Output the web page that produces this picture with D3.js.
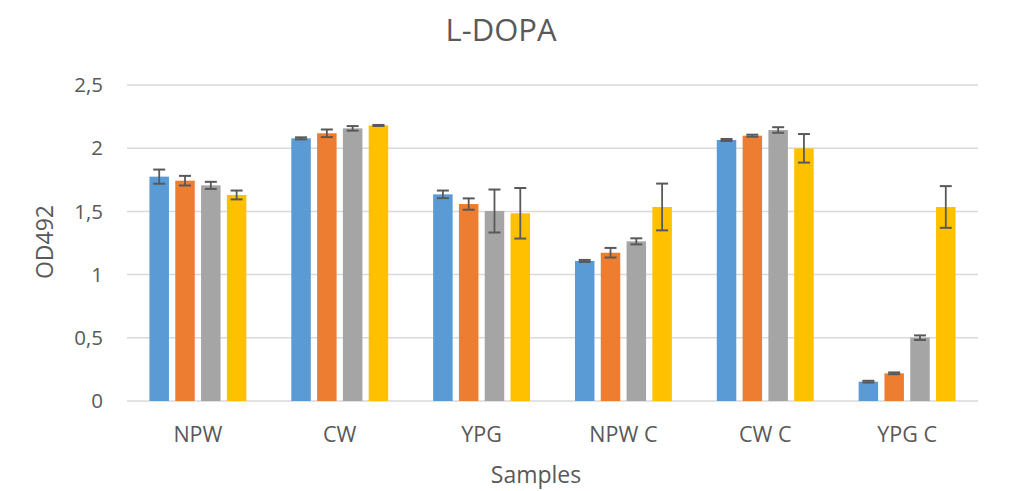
<!DOCTYPE html>
<html><head><meta charset="utf-8">
<script src="https://cdn.jsdelivr.net/npm/d3@7"></script>
<style>body{margin:0;background:#fff}svg{display:block}text{font-family:"Open Sans",sans-serif;fill:#595959}</style>
</head><body><svg id="c" width="1012" height="491"></svg>
<script>
const categories = ["NPW","CW","YPG","NPW C","CW C","YPG C"];
const seriesNames = ["S1","S2","S3","S4"];
const seriesColors = ["#5B9BD5","#ED7D31","#A5A5A5","#FFC000"];
const s1 = [1.775, 2.078, 1.635, 1.108, 2.065, 0.153];
const s2 = [1.743, 2.118, 1.558, 1.173, 2.099, 0.219];
const s3 = [1.706, 2.157, 1.503, 1.263, 2.144, 0.501];
const s4 = [1.630, 2.180, 1.485, 1.535, 1.999, 1.535];
const e1 = [0.056, 0.008, 0.030, 0.008, 0.008, 0.007];
const e2 = [0.038, 0.030, 0.045, 0.038, 0.008, 0.007];
const e3 = [0.028, 0.018, 0.170, 0.024, 0.022, 0.018];
const e4 = [0.035, 0.004, 0.200, 0.185, 0.113, 0.165];
const yTicks = [0, 0.5, 1, 1.5, 2, 2.5];
const yTickLabels = ["0","0,5","1","1,5","2","2,5"];

const values = [s1,s2,s3,s4], errors = [e1,e2,e3,e4];
const svg = d3.select("#c");
const L = 127, R = 978, T = 85, B = 401;
const x0 = d3.scaleBand().domain(categories).range([L,R]).paddingInner(0).paddingOuter(0);
const x1 = d3.scaleBand().domain(seriesNames).range([0, 0]);
const y = d3.scaleLinear().domain([0,2.5]).range([B,T]);
const groupW = x0.bandwidth();
const step = 25.8, barW = 19.5;
x1.range([groupW/2 - 2*step, groupW/2 + 2*step]).paddingInner((step-barW)/step).paddingOuter((step-barW)/step/2);

// grid
svg.append("g").selectAll("line").data(yTicks).join("line")
  .attr("x1",L).attr("x2",R).attr("y1",d=>y(d)).attr("y2",d=>y(d))
  .attr("stroke","#d9d9d9").attr("stroke-width",1.5);
// y labels
svg.append("g").selectAll("text").data(yTicks).join("text")
  .attr("x",103).attr("y",d=>y(d)).attr("dy","0.35em").attr("text-anchor","end")
  .attr("font-size",20.5).text((d,i)=>yTickLabels[i]);

const g = svg.append("g").selectAll("g").data(categories).join("g")
  .attr("transform",d=>`translate(${x0(d)},0)`);
seriesNames.forEach((s,si)=>{
  g.append("rect").attr("x",x1(s)).attr("width",x1.bandwidth())
    .attr("y",(d,i)=>y(values[si][i])).attr("height",(d,i)=>y(0)-y(values[si][i]))
    .attr("fill",seriesColors[si]);
});
seriesNames.forEach((s,si)=>{
  const cx = x1(s)+x1.bandwidth()/2;
  g.each(function(d,i){
    const v = values[si][i], e = errors[si][i];
    const gg = d3.select(this);
    gg.append("line").attr("x1",cx).attr("x2",cx).attr("y1",y(v+e)).attr("y2",y(v-e))
      .attr("stroke","#595959").attr("stroke-width",1.8);
    [v+e, v-e].forEach(t=>gg.append("line").attr("x1",cx-6).attr("x2",cx+6)
      .attr("y1",y(t)).attr("y2",y(t)).attr("stroke","#595959").attr("stroke-width",2));
  });
});

// x labels
svg.append("g").selectAll("text").data(categories).join("text")
  .attr("x",d=>x0(d)+groupW/2).attr("y",442).attr("text-anchor","middle")
  .attr("font-size",21.5).text(d=>d);
svg.append("text").attr("x",536).attr("y",483).attr("text-anchor","middle").attr("font-size",23).text("Samples");
svg.append("text").attr("transform","translate(53,242) rotate(-90)").attr("text-anchor","middle").attr("font-size",23).text("OD492");
svg.append("text").attr("x",501).attr("y",41).attr("text-anchor","middle").attr("font-size",31).text("L-DOPA");
</script></body></html>
